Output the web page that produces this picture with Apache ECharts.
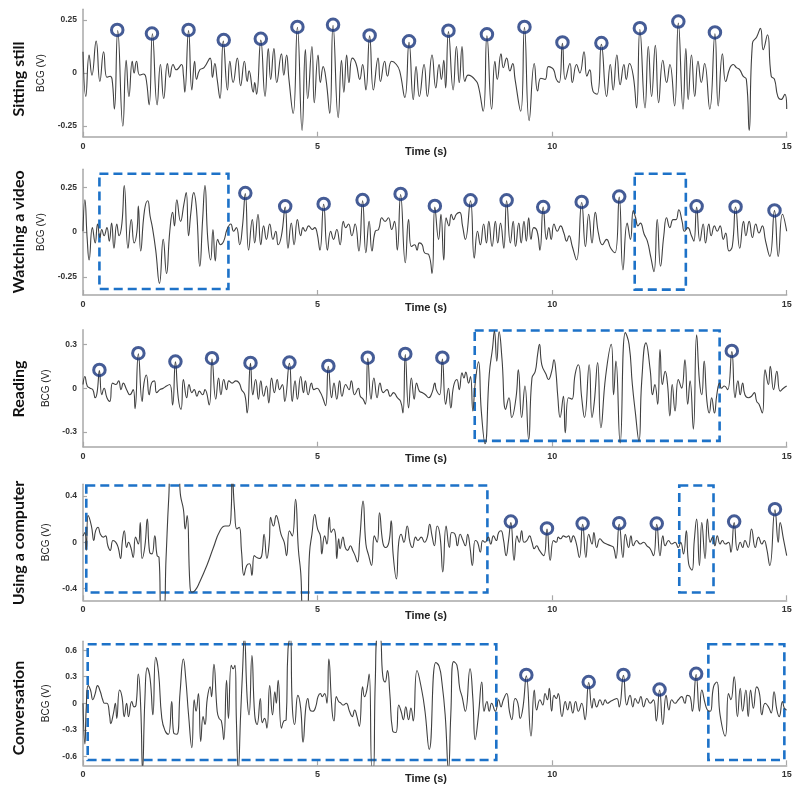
<!DOCTYPE html>
<html><head><meta charset="utf-8">
<script src="https://cdn.jsdelivr.net/npm/echarts@6/dist/echarts.min.js"></script>
<style>html,body{margin:0;padding:0;background:#fff}#c{width:798px;height:799px}</style>
</head><body><div id="c"></div>
<script>
// ---------- DATA (time s, BCG V) ----------
const sitting = [[0.00,0.10],[0.06,-0.11],[0.13,0.085],[0.19,-0.01],[0.28,0.15],[0.36,-0.04],[0.44,0.10],[0.51,-0.02],[0.58,-0.015],[0.62,-0.03],[0.67,-0.17],[0.74,0.20],[0.85,-0.25],[0.92,0.06],[0.98,-0.11],[1.05,0.055],[1.09,0.0],[1.14,0.055],[1.21,-0.01],[1.29,-0.005],[1.34,-0.02],[1.41,-0.15],[1.48,0.185],[1.58,-0.15],[1.65,0.04],[1.72,-0.12],[1.80,0.045],[1.85,-0.02],[1.92,0.04],[1.99,0.015],[2.10,0.04],[2.14,-0.01],[2.17,-0.09],[2.25,0.20],[2.32,-0.08],[2.38,0.055],[2.42,-0.03],[2.49,0.015],[2.58,0.025],[2.71,0.07],[2.76,-0.02],[2.81,0.045],[2.86,-0.03],[2.92,-0.12],[2.99,0.15],[3.08,-0.08],[3.13,0.055],[3.20,-0.045],[3.29,0.07],[3.36,-0.06],[3.44,0.055],[3.50,-0.04],[3.54,0.01],[3.63,-0.09],[3.66,-0.045],[3.70,-0.10],[3.79,0.155],[3.88,-0.11],[3.95,0.115],[4.00,-0.03],[4.07,0.115],[4.13,-0.045],[4.23,0.09],[4.28,-0.01],[4.34,0.085],[4.39,-0.03],[4.48,-0.19],[4.57,0.215],[4.67,-0.27],[4.74,0.11],[4.79,-0.12],[4.88,0.125],[4.93,-0.14],[5.01,0.085],[5.06,-0.045],[5.12,0.03],[5.18,-0.03],[5.26,-0.19],[5.33,0.225],[5.44,-0.21],[5.51,0.06],[5.56,-0.09],[5.62,0.085],[5.67,-0.045],[5.74,0.07],[5.82,0.045],[5.90,-0.03],[5.96,0.04],[6.03,-0.08],[6.11,0.175],[6.19,-0.08],[6.29,0.07],[6.34,-0.04],[6.43,0.055],[6.49,-0.015],[6.58,0.055],[6.68,0.04],[6.75,0.01],[6.86,-0.115],[6.95,0.145],[7.04,-0.125],[7.10,0.03],[7.17,-0.11],[7.27,0.04],[7.34,-0.11],[7.44,0.085],[7.52,-0.07],[7.59,0.04],[7.64,-0.03],[7.69,0.06],[7.73,-0.07],[7.79,0.195],[7.89,-0.08],[7.96,0.125],[8.02,-0.045],[8.08,0.125],[8.14,-0.04],[8.21,-0.01],[8.28,-0.015],[8.35,-0.03],[8.42,-0.055],[8.53,-0.18],[8.61,0.175],[8.71,-0.17],[8.78,0.055],[8.83,-0.03],[8.91,0.09],[8.96,0.025],[9.03,0.07],[9.10,0.01],[9.16,0.045],[9.21,-0.03],[9.33,-0.18],[9.41,0.215],[9.51,-0.225],[9.62,0.045],[9.69,-0.085],[9.76,-0.025],[9.85,-0.03],[9.92,0.03],[9.99,0.025],[10.04,0.012],[10.09,-0.03],[10.15,-0.045],[10.22,0.14],[10.28,-0.03],[10.38,0.045],[10.43,-0.045],[10.52,0.04],[10.59,0.0],[10.68,0.10],[10.74,-0.015],[10.80,0.015],[10.87,-0.085],[10.96,-0.10],[11.05,0.135],[11.16,-0.11],[11.24,0.04],[11.30,-0.08],[11.38,0.085],[11.45,-0.055],[11.53,0.04],[11.58,-0.03],[11.65,0.045],[11.73,-0.015],[11.80,-0.165],[11.87,0.205],[11.98,-0.165],[12.05,0.125],[12.12,-0.11],[12.20,0.13],[12.27,-0.14],[12.36,0.06],[12.44,-0.045],[12.51,0.04],[12.61,-0.155],[12.69,0.235],[12.79,-0.17],[12.85,0.115],[12.90,-0.125],[12.97,0.085],[13.04,-0.11],[13.11,0.055],[13.18,-0.045],[13.25,0.045],[13.36,-0.17],[13.47,0.185],[13.54,-0.155],[13.63,0.09],[13.70,-0.04],[13.79,0.025],[13.86,0.04],[13.93,0.025],[14.00,0.015],[14.07,-0.015],[14.14,-0.03],[14.20,-0.27],[14.27,0.14],[14.36,0.17],[14.44,0.21],[14.50,0.11],[14.59,0.18],[14.67,-0.015],[14.74,-0.03],[14.81,-0.11],[14.88,-0.125],[14.96,-0.10],[15.0,-0.17]];
const sittingPeaks = [[0.73,0.203],[1.47,0.186],[2.25,0.203],[3.0,0.155],[3.79,0.161],[4.57,0.217],[5.33,0.227],[6.11,0.177],[6.95,0.149],[7.79,0.199],[8.61,0.182],[9.41,0.217],[10.22,0.144],[11.05,0.141],[11.87,0.211],[12.69,0.242],[13.47,0.191]];

const video = [[0,0.005],[0.04,0.18],[0.09,-0.04],[0.13,-0.155],[0.20,0.025],[0.26,-0.06],[0.31,0.045],[0.36,-0.03],[0.40,0.015],[0.45,-0.02],[0.51,0.025],[0.56,-0.05],[0.61,0.05],[0.66,-0.09],[0.72,0.045],[0.77,-0.02],[0.83,0.05],[0.88,0.26],[0.96,-0.09],[1.03,0.07],[1.09,-0.06],[1.15,0.005],[1.18,0.145],[1.23,-0.105],[1.31,0.12],[1.38,0.175],[1.43,0.09],[1.48,0.025],[1.55,-0.10],[1.63,-0.285],[1.71,-0.04],[1.78,-0.23],[1.85,0.005],[1.91,0.11],[1.95,0.035],[2.00,0.18],[2.08,0.06],[2.15,0.155],[2.20,0.22],[2.25,-0.02],[2.30,0.11],[2.36,0.22],[2.42,0.125],[2.49,-0.19],[2.55,0.07],[2.60,0.26],[2.66,-0.04],[2.72,-0.155],[2.77,0.015],[2.82,-0.16],[2.87,-0.04],[2.93,-0.07],[3.00,-0.05],[3.07,0.015],[3.15,0.045],[3.21,0.005],[3.27,0.025],[3.34,-0.07],[3.40,0.035],[3.46,0.215],[3.53,-0.10],[3.61,0.07],[3.66,-0.06],[3.73,0.10],[3.79,-0.07],[3.85,0.035],[3.91,-0.04],[3.98,0.045],[4.05,-0.04],[4.11,0.005],[4.16,-0.07],[4.23,-0.02],[4.31,0.14],[4.37,-0.09],[4.44,0.05],[4.50,-0.07],[4.57,0.07],[4.64,-0.02],[4.69,0.025],[4.74,0.005],[4.81,0.035],[4.89,0.015],[4.94,0.025],[4.99,-0.005],[5.05,-0.10],[5.13,0.155],[5.21,-0.10],[5.28,0.005],[5.34,-0.04],[5.41,0.015],[5.48,-0.07],[5.55,0.06],[5.60,0.025],[5.66,0.045],[5.73,-0.02],[5.80,0.045],[5.88,-0.105],[5.96,0.175],[6.03,-0.115],[6.10,0.06],[6.16,-0.105],[6.23,0.005],[6.30,0.015],[6.37,0.08],[6.44,0.06],[6.51,0.08],[6.58,0.015],[6.64,0.06],[6.70,-0.10],[6.77,0.21],[6.87,-0.17],[6.94,0.07],[7.00,-0.08],[7.07,-0.07],[7.12,-0.10],[7.17,-0.06],[7.23,-0.07],[7.28,-0.115],[7.37,-0.125],[7.44,-0.23],[7.50,0.14],[7.58,-0.04],[7.63,0.10],[7.69,-0.155],[7.74,0.08],[7.80,0.035],[7.85,0.10],[7.90,0.07],[7.96,0.10],[8.03,0.11],[8.09,0.035],[8.15,-0.04],[8.26,0.175],[8.34,-0.145],[8.41,0.005],[8.47,-0.07],[8.54,0.045],[8.60,-0.06],[8.65,0.06],[8.72,-0.08],[8.79,0.06],[8.84,-0.06],[8.90,0.05],[8.97,-0.09],[9.03,0.175],[9.11,-0.06],[9.17,0.06],[9.22,-0.08],[9.29,0.05],[9.34,-0.06],[9.40,0.06],[9.45,-0.05],[9.50,0.08],[9.55,-0.04],[9.61,0.025],[9.68,0.005],[9.74,-0.10],[9.81,0.14],[9.88,-0.04],[9.93,0.025],[9.98,-0.04],[10.04,0.045],[10.11,0.005],[10.18,0.035],[10.25,-0.005],[10.31,-0.05],[10.36,-0.02],[10.43,-0.08],[10.52,-0.155],[10.63,0.165],[10.71,-0.08],[10.78,0.10],[10.85,-0.06],[10.92,0.11],[10.99,-0.01],[11.07,-0.07],[11.16,-0.04],[11.25,-0.09],[11.34,-0.115],[11.43,0.195],[11.51,-0.21],[11.60,0.05],[11.67,-0.04],[11.73,0.12],[11.78,0.08],[11.83,0.035],[11.88,0.05],[11.96,-0.01],[12.03,-0.05],[12.10,-0.135],[12.17,-0.22],[12.24,0.07],[12.31,-0.19],[12.38,-0.02],[12.44,0.08],[12.51,0.025],[12.58,0.07],[12.64,0.07],[12.70,0.125],[12.77,0.06],[12.82,0.005],[12.89,0.025],[12.97,-0.02],[13.02,-0.05],[13.08,0.14],[13.15,-0.05],[13.22,0.045],[13.27,-0.06],[13.34,0.045],[13.39,-0.02],[13.46,0.035],[13.52,0.005],[13.58,0.035],[13.65,-0.04],[13.70,-0.005],[13.77,-0.105],[13.84,-0.08],[13.91,0.14],[14.00,-0.09],[14.08,0.06],[14.13,-0.02],[14.20,0.06],[14.27,-0.03],[14.34,0.045],[14.41,-0.005],[14.48,0.035],[14.55,-0.05],[14.64,-0.135],[14.74,0.12],[14.82,-0.135],[14.91,0.10],[15.0,0.005]];
const videoPeaks = [[3.46,0.218],[4.31,0.144],[5.13,0.157],[5.96,0.179],[6.77,0.213],[7.5,0.146],[8.26,0.177],[9.03,0.177],[9.81,0.14],[10.63,0.168],[11.43,0.198],[13.08,0.144],[13.91,0.142],[14.74,0.121]];
const videoBoxes = [[[0.35,0.325],[3.1,-0.317]],[[11.76,0.325],[12.85,-0.32]]];

const reading = [[0,0.025],[0.04,0.08],[0.09,0.015],[0.15,0.0],[0.21,-0.01],[0.26,-0.065],[0.30,-0.03],[0.35,0.12],[0.40,-0.045],[0.45,0.0],[0.51,-0.065],[0.57,-0.09],[0.63,0.035],[0.70,0.025],[0.76,0.05],[0.81,-0.01],[0.86,0.035],[0.93,-0.01],[1.00,-0.045],[1.07,-0.01],[1.11,-0.14],[1.18,0.235],[1.26,-0.09],[1.30,0.035],[1.35,0.09],[1.41,-0.045],[1.46,0.035],[1.52,0.05],[1.57,-0.03],[1.64,-0.01],[1.71,0.0],[1.78,0.015],[1.85,0.025],[1.91,-0.115],[1.97,0.18],[2.03,-0.065],[2.09,-0.145],[2.14,0.06],[2.21,-0.065],[2.26,0.025],[2.32,-0.03],[2.37,-0.01],[2.43,-0.055],[2.48,-0.02],[2.55,-0.045],[2.60,-0.01],[2.69,-0.115],[2.75,0.20],[2.83,-0.075],[2.89,0.07],[2.94,-0.045],[3.00,0.06],[3.06,-0.01],[3.11,0.05],[3.18,0.035],[3.26,0.05],[3.33,0.035],[3.38,-0.01],[3.45,-0.045],[3.50,-0.17],[3.57,0.17],[3.62,-0.045],[3.68,0.06],[3.74,-0.075],[3.79,0.05],[3.85,-0.055],[3.91,0.015],[3.96,-0.10],[4.02,0.07],[4.08,-0.03],[4.14,0.06],[4.19,-0.01],[4.25,0.025],[4.30,-0.09],[4.40,0.17],[4.46,-0.09],[4.52,0.05],[4.57,-0.075],[4.64,0.08],[4.70,-0.03],[4.74,0.05],[4.80,-0.045],[4.87,0.035],[4.92,-0.01],[4.99,0.0],[5.06,-0.03],[5.11,-0.065],[5.17,-0.12],[5.23,0.15],[5.30,-0.065],[5.35,0.035],[5.41,-0.075],[5.47,0.05],[5.52,-0.055],[5.60,0.025],[5.67,-0.01],[5.72,0.05],[5.79,-0.045],[5.87,0.0],[5.91,-0.055],[5.97,-0.075],[6.02,-0.11],[6.07,0.205],[6.14,-0.075],[6.20,0.07],[6.27,-0.065],[6.33,0.035],[6.40,-0.03],[6.48,-0.01],[6.55,-0.055],[6.62,-0.03],[6.70,-0.065],[6.77,-0.09],[6.82,-0.17],[6.87,0.23],[6.94,-0.135],[7.00,0.07],[7.06,-0.075],[7.11,0.035],[7.17,-0.02],[7.23,-0.03],[7.30,-0.045],[7.37,-0.065],[7.44,-0.03],[7.50,0.035],[7.53,-0.01],[7.60,-0.045],[7.66,0.20],[7.73,-0.11],[7.79,0.0],[7.84,-0.135],[7.90,0.015],[7.97,0.06],[8.02,-0.01],[8.08,0.105],[8.12,0.07],[8.16,0.11],[8.22,0.035],[8.26,0.08],[8.31,-0.155],[8.36,0.035],[8.43,0.18],[8.49,-0.155],[8.57,-0.38],[8.66,0.095],[8.73,0.275],[8.77,0.39],[8.82,0.185],[8.87,0.385],[8.93,0.205],[9.01,-0.145],[9.08,-0.065],[9.14,-0.20],[9.23,-0.065],[9.28,0.125],[9.35,-0.20],[9.42,0.015],[9.50,-0.35],[9.57,0.07],[9.64,0.115],[9.69,0.23],[9.73,0.30],[9.78,0.16],[9.87,0.095],[9.92,0.06],[9.99,0.115],[10.04,0.195],[10.08,0.115],[10.12,-0.055],[10.17,-0.20],[10.24,-0.055],[10.28,-0.305],[10.35,-0.065],[10.42,-0.075],[10.49,0.095],[10.56,0.16],[10.63,-0.065],[10.69,-0.20],[10.79,0.16],[10.85,-0.20],[10.90,-0.09],[10.97,0.175],[11.04,-0.27],[11.14,0.08],[11.26,0.30],[11.31,-0.045],[11.36,0.185],[11.45,-0.375],[11.56,0.38],[11.64,0.30],[11.71,0.025],[11.77,-0.155],[11.85,-0.36],[11.91,0.05],[12.00,0.31],[12.09,0.125],[12.14,-0.045],[12.19,0.025],[12.25,-0.11],[12.30,0.265],[12.35,0.025],[12.41,0.115],[12.46,0.025],[12.51,-0.19],[12.56,0.025],[12.62,-0.155],[12.69,0.06],[12.76,0.0],[12.83,0.195],[12.89,-0.11],[12.94,0.05],[13.01,-0.28],[13.08,0.365],[13.14,0.05],[13.19,-0.045],[13.24,0.185],[13.30,-0.09],[13.35,-0.17],[13.40,-0.065],[13.46,-0.17],[13.51,-0.045],[13.57,0.035],[13.61,0.0],[13.67,0.015],[13.74,-0.01],[13.83,0.25],[13.90,-0.065],[13.96,0.05],[14.01,-0.045],[14.06,0.035],[14.11,-0.045],[14.18,-0.065],[14.25,-0.055],[14.31,-0.03],[14.36,-0.09],[14.41,-0.11],[14.48,-0.17],[14.54,0.125],[14.61,0.025],[14.65,0.15],[14.72,-0.01],[14.79,0.115],[14.86,-0.02],[14.93,0.0],[15.0,0.015]];
const readingPeaks = [[0.35,0.125],[1.18,0.239],[1.97,0.182],[2.75,0.205],[3.57,0.173],[4.40,0.175],[5.23,0.152],[6.07,0.209],[6.87,0.234],[7.66,0.209],[13.83,0.255]];
const readingBoxes = [[[8.35,0.395],[13.57,-0.36]]];

const computer = [[0,0.055],[0.04,0.085],[0.07,-0.07],[0.11,0.23],[0.18,0.14],[0.23,0.015],[0.27,0.10],[0.32,0.13],[0.37,0.07],[0.43,0.045],[0.48,0.055],[0.53,-0.03],[0.58,-0.07],[0.64,0.015],[0.70,0.0],[0.75,-0.045],[0.80,-0.14],[0.84,0.015],[0.88,0.10],[0.93,-0.045],[0.97,0.0],[1.02,-0.045],[1.07,-0.13],[1.12,0.045],[1.18,-0.015],[1.22,0.17],[1.26,-0.14],[1.32,-0.03],[1.37,0.20],[1.42,-0.085],[1.47,-0.10],[1.53,0.055],[1.58,-0.115],[1.62,-0.13],[1.67,-0.6],[1.72,-0.6],[1.77,-0.14],[1.83,0.40],[1.87,0.6],[2.03,0.6],[2.08,0.40],[2.14,0.285],[2.18,0.115],[2.22,0.23],[2.28,-0.37],[2.32,-0.43],[2.39,-0.415],[2.49,-0.34],[2.64,-0.20],[2.78,-0.045],[2.92,0.10],[3.03,0.14],[3.11,0.14],[3.16,0.285],[3.18,0.6],[3.23,0.285],[3.28,0.115],[3.33,0.13],[3.38,-0.085],[3.43,-0.285],[3.49,-0.20],[3.55,-0.185],[3.60,-0.285],[3.65,-0.115],[3.70,-0.13],[3.76,-0.14],[3.81,-0.115],[3.86,0.07],[3.92,-0.14],[3.97,0.0],[4.00,0.215],[4.06,0.14],[4.12,0.23],[4.17,0.17],[4.22,0.07],[4.29,0.0],[4.34,-0.115],[4.40,0.10],[4.46,0.055],[4.53,0.37],[4.59,-0.055],[4.64,-0.255],[4.70,-0.6],[4.77,-0.6],[4.83,-0.085],[4.88,0.07],[4.94,0.24],[5.00,0.115],[5.06,0.055],[5.09,-0.10],[5.15,0.055],[5.20,-0.015],[5.25,0.215],[5.29,0.085],[5.34,0.115],[5.38,0.07],[5.41,-0.14],[5.45,0.03],[5.48,-0.055],[5.54,0.045],[5.59,-0.045],[5.64,-0.07],[5.70,-0.03],[5.75,-0.07],[5.80,-0.115],[5.85,-0.17],[5.90,0.03],[5.97,0.355],[6.03,-0.015],[6.09,-0.115],[6.15,-0.20],[6.21,0.055],[6.27,0.0],[6.32,0.255],[6.39,0.0],[6.45,-0.045],[6.52,0.0],[6.57,0.185],[6.61,-0.10],[6.68,-0.315],[6.73,0.0],[6.78,0.07],[6.84,0.0],[6.91,0.14],[6.97,0.0],[7.02,-0.045],[7.09,0.045],[7.14,0.015],[7.21,0.045],[7.28,0.0],[7.34,0.045],[7.39,0.155],[7.44,0.055],[7.49,-0.03],[7.55,0.14],[7.61,0.055],[7.67,-0.255],[7.74,0.14],[7.81,-0.045],[7.86,0.085],[7.93,0.07],[7.98,-0.03],[8.04,0.07],[8.10,0.015],[8.15,-0.03],[8.20,0.07],[8.25,-0.045],[8.30,-0.20],[8.36,0.015],[8.41,0.0],[8.47,-0.085],[8.52,0.015],[8.57,0.0],[8.64,0.045],[8.69,-0.015],[8.75,0.055],[8.81,0.015],[8.86,0.085],[8.91,0.10],[8.96,0.03],[9.02,-0.115],[9.07,0.015],[9.12,0.17],[9.19,-0.155],[9.25,0.055],[9.30,0.0],[9.35,0.10],[9.40,0.0],[9.46,0.015],[9.52,0.055],[9.57,0.0],[9.62,-0.055],[9.67,-0.03],[9.73,-0.07],[9.82,-0.115],[9.89,0.115],[9.96,-0.155],[10.03,0.015],[10.09,0.0],[10.13,0.045],[10.18,0.03],[10.24,0.055],[10.30,0.045],[10.35,0.055],[10.40,0.0],[10.45,0.055],[10.51,0.0],[10.58,-0.13],[10.65,0.155],[10.72,-0.13],[10.78,0.07],[10.85,-0.015],[10.89,0.085],[10.95,-0.045],[11.02,0.03],[11.09,0.0],[11.16,-0.015],[11.25,-0.03],[11.31,-0.045],[11.36,-0.14],[11.43,0.155],[11.51,-0.13],[11.56,0.07],[11.63,-0.045],[11.68,0.055],[11.73,-0.03],[11.80,0.015],[11.88,-0.015],[11.95,0.0],[12.02,-0.03],[12.09,-0.055],[12.16,-0.115],[12.23,0.155],[12.30,-0.115],[12.36,0.055],[12.41,-0.03],[12.48,0.015],[12.55,-0.015],[12.62,0.0],[12.69,-0.045],[12.74,0.0],[12.80,-0.10],[12.86,0.10],[12.91,-0.185],[12.98,-0.24],[13.03,0.015],[13.08,0.20],[13.14,-0.20],[13.19,0.17],[13.26,-0.14],[13.31,0.20],[13.37,0.0],[13.42,0.045],[13.47,-0.03],[13.52,0.055],[13.58,-0.015],[13.63,0.015],[13.69,-0.015],[13.76,0.0],[13.81,-0.085],[13.88,0.17],[13.95,-0.07],[14.01,0.0],[14.06,-0.045],[14.11,0.015],[14.18,-0.045],[14.25,0.115],[14.33,-0.045],[14.40,0.045],[14.47,-0.015],[14.52,0.015],[14.57,-0.045],[14.64,-0.20],[14.75,0.28],[14.82,0.0],[14.86,0.17],[14.93,0.03],[15.0,-0.115]];
const computerPeaks = [[9.12,0.179],[9.89,0.12],[10.65,0.162],[11.43,0.165],[12.23,0.162],[13.88,0.179],[14.75,0.285]];
const computerBoxes = [[[0.07,0.49],[8.62,-0.433]],[[12.71,0.49],[13.44,-0.433]]];

const conversation = [[0,0.0],[0.04,-0.46],[0.07,-0.04],[0.11,0.20],[0.16,0.15],[0.21,0.04],[0.26,0.11],[0.31,0.20],[0.37,0.13],[0.42,0.04],[0.46,0.0],[0.51,0.0],[0.57,-0.15],[0.59,-0.23],[0.65,-0.11],[0.69,0.0],[0.72,-0.17],[0.78,0.15],[0.83,0.075],[0.88,-0.15],[0.93,0.0],[0.97,-0.15],[1.04,0.02],[1.09,-0.04],[1.13,-0.02],[1.18,0.33],[1.23,-0.04],[1.27,-0.75],[1.32,0.055],[1.37,0.40],[1.43,0.28],[1.49,-0.13],[1.55,0.52],[1.61,0.35],[1.68,-0.17],[1.75,-0.31],[1.82,-0.35],[1.89,0.02],[1.93,-0.33],[2.00,-0.35],[2.07,0.13],[2.14,0.50],[2.19,0.28],[2.25,-0.13],[2.32,-0.50],[2.37,0.04],[2.41,-0.09],[2.46,0.11],[2.51,-0.43],[2.56,-0.15],[2.60,-0.24],[2.65,0.055],[2.71,0.185],[2.74,0.075],[2.79,0.44],[2.86,-0.09],[2.90,-0.17],[2.95,-0.20],[3.00,-0.41],[3.06,0.26],[3.10,-0.17],[3.16,0.43],[3.20,0.39],[3.24,0.43],[3.27,-0.20],[3.31,-0.75],[3.36,-0.13],[3.40,0.35],[3.44,0.75],[3.50,0.055],[3.54,-0.13],[3.60,0.54],[3.66,-0.13],[3.71,-0.24],[3.78,0.055],[3.82,-0.22],[3.87,-0.17],[3.92,-0.28],[3.98,0.20],[4.04,-0.13],[4.09,0.13],[4.12,0.0],[4.16,0.26],[4.23,-0.28],[4.28,-0.20],[4.33,-0.185],[4.37,0.61],[4.42,0.75],[4.46,-0.02],[4.51,-0.24],[4.58,0.09],[4.64,-0.055],[4.69,-0.44],[4.75,-0.04],[4.79,0.055],[4.84,-0.075],[4.90,-0.09],[4.96,-0.04],[5.01,0.075],[5.06,0.11],[5.10,0.075],[5.15,0.11],[5.20,0.0],[5.24,0.50],[5.31,-0.09],[5.35,-0.20],[5.40,0.075],[5.45,0.02],[5.50,0.0],[5.54,-0.02],[5.61,0.0],[5.68,-0.09],[5.74,-0.15],[5.79,-0.075],[5.84,-0.15],[5.89,-0.26],[5.96,0.185],[6.00,0.075],[6.05,0.15],[6.10,0.33],[6.16,-0.75],[6.19,-0.75],[6.23,0.24],[6.28,0.75],[6.33,0.75],[6.39,0.31],[6.44,0.24],[6.49,0.37],[6.54,0.11],[6.60,-0.31],[6.67,-0.33],[6.73,-0.02],[6.78,-0.09],[6.83,-0.185],[6.88,-0.04],[6.94,-0.185],[6.99,-0.055],[7.04,-0.20],[7.12,0.37],[7.22,0.15],[7.29,-0.09],[7.38,-0.52],[7.52,0.46],[7.59,0.42],[7.65,0.24],[7.72,-0.13],[7.79,-0.75],[7.84,-0.13],[7.90,0.47],[7.97,0.43],[8.03,0.17],[8.08,0.075],[8.15,-0.09],[8.25,0.39],[8.31,0.055],[8.36,-0.41],[8.43,-0.13],[8.50,0.24],[8.55,-0.09],[8.61,0.02],[8.66,-0.09],[8.71,0.0],[8.79,-0.09],[8.86,0.04],[8.91,-0.04],[8.96,0.04],[9.03,0.11],[9.09,-0.09],[9.14,-0.185],[9.21,0.055],[9.27,0.0],[9.32,-0.17],[9.38,-0.04],[9.45,0.31],[9.55,-0.37],[9.62,0.15],[9.67,-0.075],[9.74,0.04],[9.80,-0.02],[9.85,0.11],[9.90,0.04],[9.94,0.17],[9.99,-0.09],[10.04,0.09],[10.09,0.055],[10.13,0.11],[10.21,-0.15],[10.28,0.02],[10.33,-0.075],[10.38,0.02],[10.44,-0.11],[10.50,0.02],[10.56,-0.09],[10.63,0.0],[10.70,-0.185],[10.78,0.235],[10.85,-0.055],[10.89,0.055],[10.95,-0.04],[11.02,0.04],[11.08,-0.02],[11.13,0.04],[11.18,0.0],[11.24,0.02],[11.31,0.04],[11.38,0.055],[11.43,-0.04],[11.52,0.315],[11.59,-0.02],[11.66,0.09],[11.72,-0.04],[11.77,0.055],[11.83,0.0],[11.89,0.075],[11.95,-0.04],[12.02,0.055],[12.09,0.0],[12.16,0.04],[12.22,-0.20],[12.29,0.15],[12.36,-0.24],[12.43,0.09],[12.49,-0.075],[12.55,0.04],[12.62,0.0],[12.69,0.04],[12.76,0.075],[12.83,0.0],[12.88,0.09],[12.94,0.075],[12.99,-0.09],[13.07,0.325],[13.14,-0.09],[13.19,0.15],[13.26,0.0],[13.31,-0.075],[13.37,-0.09],[13.44,0.185],[13.51,0.24],[13.58,-0.13],[13.69,-0.37],[13.76,0.11],[13.81,0.04],[13.88,0.30],[13.95,-0.15],[14.01,0.17],[14.06,-0.09],[14.13,0.15],[14.18,-0.15],[14.23,0.15],[14.29,-0.055],[14.36,0.185],[14.42,0.11],[14.47,-0.13],[14.54,0.0],[14.61,-0.04],[14.67,-0.11],[14.73,0.13],[14.79,-0.075],[14.84,-0.15],[14.91,0.02],[14.95,-0.055],[15.0,-0.075]];
const conversationPeaks = [[9.45,0.32],[10.78,0.24],[11.52,0.32],[12.29,0.155],[13.07,0.333]];
const conversationBoxes = [[[0.10,0.666],[8.81,-0.64]],[[13.33,0.666],[14.95,-0.64]]];

const rowTitles = ['Sitting still','Watching a video','Reading','Using a computer','Conversation'];
const yTicks = [[-0.25,0,0.25],[-0.25,0,0.25],[-0.3,0,0.3],[-0.4,0,0.4],[-0.6,-0.3,0,0.3,0.6]];
const yRanges = [[-0.3,0.3],[-0.35,0.35],[-0.4,0.4],[-0.5,0.5],[-0.7,0.7]];

// ---------- LAYOUT ----------
const signals = [sitting, video, reading, computer, conversation];
const peaks = [sittingPeaks, videoPeaks, readingPeaks, computerPeaks, conversationPeaks];
const boxes = [[], videoBoxes, readingBoxes, computerBoxes, conversationBoxes];
const gridTops = [9.3, 169.3, 329.7, 484.3, 641.3];
const gridBottoms = [136.7, 295, 446.7, 600.3, 765.3];
const titleYs = [79, 232, 389, 543, 708];
const timeDy = [15, 12.7, 12.6, 15.2, 13.4];
const FONT = 'Liberation Sans, Arial, sans-serif';
const AX = '#a8a8a8';

const option = {
  animation: false,
  backgroundColor: '#fff',
  grid: [], xAxis: [], yAxis: [], series: [], graphic: []
};
for (let i = 0; i < 5; i++) {
  option.grid.push({left: 83, right: 11.3, top: gridTops[i], height: gridBottoms[i] - gridTops[i]});
  option.xAxis.push({
    gridIndex: i, type: 'value', min: 0, max: 15, interval: 5,
    axisLine: {onZero: false, lineStyle: {color: AX, width: 1.5}},
    axisTick: {inside: true, length: 5, lineStyle: {color: AX, width: 1.2}},
    axisLabel: {margin: 5, fontSize: 9, fontWeight: 'bold', color: '#333', fontFamily: FONT},
    splitLine: {show: false}
  });
  const tv = yTicks[i];
  option.yAxis.push({
    gridIndex: i, type: 'value', min: yRanges[i][0], max: yRanges[i][1],
    name: 'BCG (V)', nameLocation: 'middle', nameGap: 25,
    nameTextStyle: {fontSize: 10, color: '#222', fontFamily: FONT},
    axisLine: {show: true, onZero: false, lineStyle: {color: AX, width: 1.5}},
    axisTick: {show: true, inside: true, length: 4, customValues: tv, lineStyle: {color: AX, width: 1.2}},
    axisLabel: {customValues: tv, margin: 6, fontSize: 8.5, fontWeight: 'bold', color: '#333', fontFamily: FONT,
      formatter: v => (Math.abs(v) < 1e-9 ? '0' : String(+v.toFixed(2)))},
    splitLine: {show: false}
  });
  option.series.push({
    type: 'line', xAxisIndex: i, yAxisIndex: i, data: signals[i],
    showSymbol: false, smooth: 0.5, silent: true, clip: true,
    lineStyle: {color: '#404040', width: 1.1},
    markArea: {
      silent: true,
      itemStyle: {color: 'rgba(0,0,0,0)', borderColor: '#1d72c8', borderWidth: 2.6, borderType: [9, 5]},
      label: {show: false},
      data: boxes[i].map(b => [{coord: b[0]}, {coord: b[1]}])
    }
  });
  option.series.push({
    type: 'scatter', xAxisIndex: i, yAxisIndex: i, data: peaks[i], silent: true, z: 5,
    symbol: 'circle', symbolSize: 11.5,
    itemStyle: {color: 'rgba(0,0,0,0)', borderColor: '#17337c', borderWidth: 3}
  });
  option.graphic.push({
    type: 'text', x: 19, y: titleYs[i], rotation: Math.PI / 2,
    style: {text: rowTitles[i], font: 'bold 16px Lato, "Open Sans", sans-serif', fill: '#111',
      textAlign: 'center', textVerticalAlign: 'middle', align: 'center', verticalAlign: 'middle'}
  });
  option.graphic.push({
    type: 'text', x: 426, y: gridBottoms[i] + timeDy[i],
    style: {text: 'Time (s)', font: 'bold 11px ' + FONT, fill: '#222',
      textAlign: 'center', textVerticalAlign: 'middle', align: 'center', verticalAlign: 'middle'}
  });
}
const chart = echarts.init(document.getElementById('c'), null, {renderer: 'canvas'});
chart.setOption(option);
</script></body></html>
